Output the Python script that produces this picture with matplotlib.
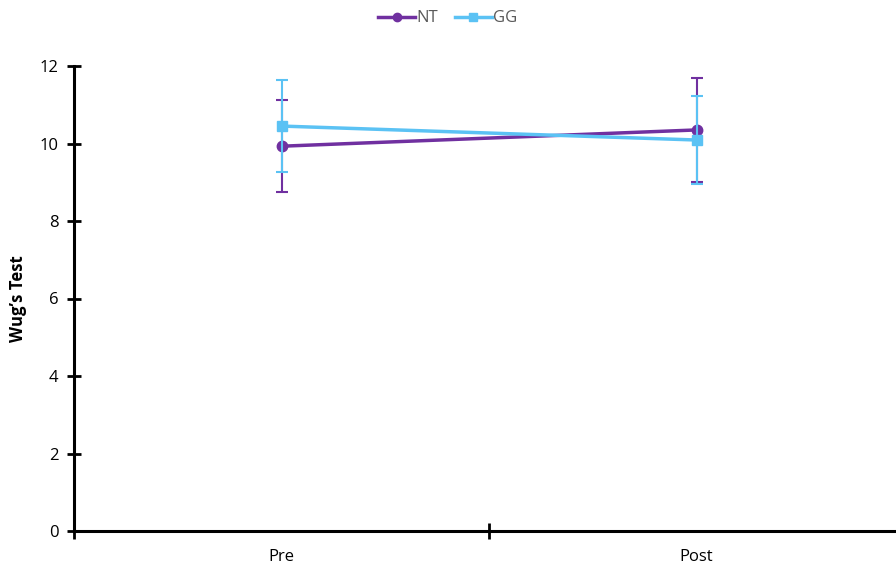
import matplotlib
matplotlib.use("Agg")
import matplotlib.pyplot as plt
from matplotlib.ticker import FixedLocator
from matplotlib.lines import Line2D

categories = ["Pre", "Post"]
nt_values = [9.93, 10.35]
nt_err = [1.18, 1.34]
gg_values = [10.45, 10.09]
gg_err = [1.19, 1.13]
y_ticks = [0, 2, 4, 6, 8, 10, 12]

plt.rcParams['font.family'] = ['Open Sans', 'DejaVu Sans']

fig = plt.figure(figsize=(8.96, 5.67), dpi=100)
ax = fig.add_axes([74/896, 36/567, 830/896, 465/567])

x = list(range(len(categories)))
purple = "#7030A0"
blue = "#5BC2F4"

ax.errorbar(x, nt_values, yerr=nt_err, color=purple, lw=2.5, marker='o', ms=7.5,
            capsize=4, elinewidth=1.5, capthick=1.5, zorder=3)
ax.errorbar(x, gg_values, yerr=gg_err, color=blue, lw=2.5, marker='s', ms=7.5,
            capsize=4, elinewidth=1.5, capthick=1.5, zorder=4)

ax.set_xlim(-0.5, 1.5)
ax.set_ylim(0, 12)
ax.set_yticks(y_ticks)
ax.set_xticks(x)
ax.set_xticklabels(categories)
ax.xaxis.set_minor_locator(FixedLocator([-0.5, 0.5, 1.5]))
ax.tick_params(axis='x', which='major', length=0, pad=13, labelsize=12)
ax.tick_params(axis='x', which='minor', length=12, width=2, direction='inout')
ax.tick_params(axis='y', which='major', length=10, width=2, direction='inout', labelsize=12, pad=6)

for s in ['top', 'right']:
    ax.spines[s].set_visible(False)
for s in ['left', 'bottom']:
    ax.spines[s].set_linewidth(2.2)

ax.set_ylabel("Wug\u2019s Test", fontsize=12, fontweight='bold', labelpad=9)

handles = [Line2D([], [], color=purple, lw=2.5, marker='o', ms=6),
           Line2D([], [], color=blue, lw=2.5, marker='s', ms=6)]
fig.legend(handles, ["NT", "GG"], loc='upper center', bbox_to_anchor=(0.5, 1.008), ncol=2,
           frameon=False, fontsize=12, handlelength=2.2, handletextpad=0.1, columnspacing=1.0,
           labelcolor="#595959")

fig.savefig("out.png", dpi=100)
